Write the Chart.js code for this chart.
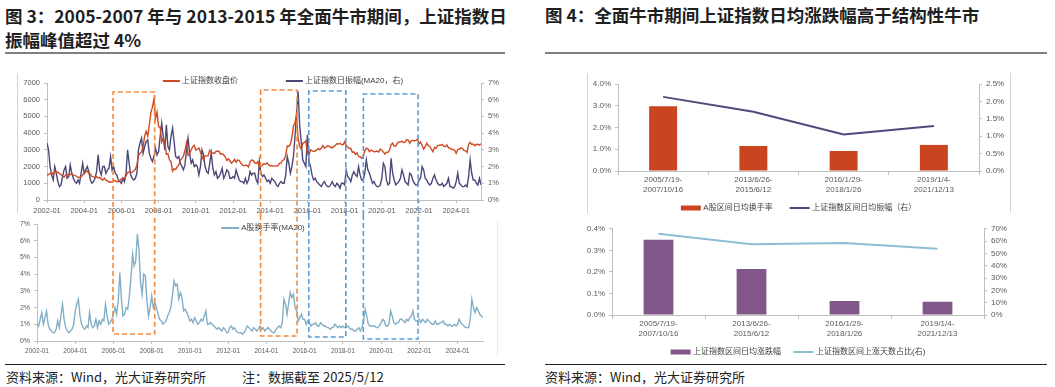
<!DOCTYPE html>
<html lang="zh-CN">
<head>
<meta charset="utf-8">
<title>上证指数振幅与换手率</title>
<script src="https://cdn.jsdelivr.net/npm/chart.js@4.4.1/dist/chart.umd.min.js"></script>
<style>
  body { margin: 0; width: 1055px; height: 387px; position: relative; overflow: hidden; background: #fff; font-family: "Noto Sans CJK SC", sans-serif; color: #1f1f1f; }
  .title { position: absolute; top: 4px; font-size: 17.5px; font-weight: 700; line-height: 24px; white-space: nowrap; }
  .rule { position: absolute; top: 52px; height: 2px; background: #808080; }
  .foot-rule { position: absolute; top: 364px; height: 1px; background: #222; }
  .foot { position: absolute; top: 368px; font-size: 13px; line-height: 18px; white-space: nowrap; color: #222; }
  .box { position: absolute; }
  .frame { position: absolute; width: 1px; background: #d4d4d4; }
</style>
</head>
<body>
  <div class="title" style="left:5px">图 3：2005-2007 年与 2013-2015 年全面牛市期间，上证指数日<br>振幅峰值超过 4%</div>
  <div class="title" style="left:545px; top:3px">图 4：全面牛市期间上证指数日均涨跌幅高于结构性牛市</div>
  <div class="rule" style="left:5px; width:500px"></div>
  <div class="rule" style="left:545px; width:502px"></div>

  <div class="frame" style="left:17px; top:73px; height:140px"></div>
  <div class="frame" style="left:497px; top:220px; height:137px; background:#ececec"></div>
  <div class="frame" style="left:587px; top:73px; height:140px"></div>
  <div class="frame" style="left:1010px; top:73px; height:140px"></div>

  <div class="box" style="left:0; top:60px; width:520px; height:155px"><canvas id="indexChart"></canvas></div>
  <div class="box" style="left:0; top:215px; width:520px; height:145px"><canvas id="turnoverChart"></canvas></div>
  <div class="box" style="left:540px; top:60px; width:480px; height:160px"><canvas id="rangeTurnoverChart"></canvas></div>
  <div class="box" style="left:540px; top:220px; width:480px; height:141px"><canvas id="rangeChangeChart"></canvas></div>

  <div class="foot-rule" style="left:5px; width:500px"></div>
  <div class="foot-rule" style="left:545px; width:502px"></div>
  <div class="foot" style="left:6px">资料来源：Wind，光大证券研究所</div>
  <div class="foot" style="left:242px">注：数据截至 2025/5/12</div>
  <div class="foot" style="left:545px">资料来源：Wind，光大证券研究所</div>

<script>
// 月度数据，起点 2002-01
const startYear = 2002;

// 上证指数收盘价（点）
const closePrice = [
  1490, 1525, 1580, 1650, 1515, 1730, 1655, 1670, 1580, 1508, 1440, 1358,
  1500, 1512, 1510, 1521, 1576, 1487, 1476, 1421, 1367, 1348, 1397, 1497,
  1590, 1675, 1742, 1595, 1555, 1399, 1386, 1342, 1397, 1320, 1340, 1266,
  1191, 1306, 1181, 1159, 1060, 1080, 1083, 1162, 1155, 1092, 1099, 1161,
  1258, 1299, 1298, 1440, 1641, 1672, 1612, 1658, 1752, 1837, 2099, 2675,
  2786, 2881, 3183, 3841, 4109, 3820, 4471, 5218, 5552, 6050, 4871, 5261,
  4383, 4348, 3472, 3693, 3433, 2736, 2775, 2397, 2293, 1728, 1871, 1821,
  1990, 2082, 2373, 2477, 2632, 2959, 3412, 2667, 2779, 2996, 3195, 3277,
  2989, 3051, 3109, 2870, 2592, 2398, 2638, 2638, 2655, 2979, 2820, 2808,
  2790, 2905, 2928, 2911, 2743, 2762, 2701, 2568, 2359, 2468, 2333, 2199,
  2292, 2428, 2262, 2396, 2373, 2225, 2103, 2047, 2086, 2069, 1980, 2269,
  2385, 2365, 2237, 2178, 2300, 1979, 1994, 2098, 2175, 2141, 2220, 2116,
  2033, 2056, 2033, 2026, 2039, 2048, 2202, 2217, 2364, 2420, 2683, 3235,
  3210, 3310, 3748, 4442, 4612, 5100, 3664, 3206, 3053, 3383, 3445, 3539,
  2738, 2688, 3004, 2938, 2917, 2930, 2979, 3085, 3005, 3100, 3250, 3104,
  3159, 3242, 3223, 3155, 3117, 3192, 3273, 3361, 3349, 3393, 3317, 3307,
  3481, 3259, 3169, 3082, 3095, 2847, 2876, 2725, 2821, 2603, 2588, 2494,
  2585, 2941, 3091, 3078, 2899, 2979, 2933, 2886, 2905, 2929, 2872, 3050,
  2977, 2880, 2750, 2860, 2852, 2985, 3310, 3396, 3218, 3225, 3392, 3473,
  3483, 3509, 3442, 3447, 3615, 3591, 3397, 3544, 3568, 3547, 3564, 3640,
  3361, 3462, 3252, 3047, 3186, 3399, 3253, 3202, 3024, 2893, 3151, 3089,
  3256, 3280, 3273, 3323, 3205, 3202, 3291, 3120, 3110, 3018, 3030, 2975,
  2789, 3015, 3041, 3105, 3087, 2967, 2939, 2842, 3336, 3450, 3326, 3352,
  3250, 3321, 3336, 3279, 3370
];

// 上证指数日振幅 MA20（%）
const amplitude = [
  3.4, 3.0, 2.0, 1.5, 1.2, 2.0, 1.6, 1.1, 0.8, 0.9, 1.4, 1.8,
  2.0, 1.3, 1.4, 2.1, 1.6, 1.3, 1.1, 1.0, 1.2, 1.0, 1.6, 2.2,
  1.6, 1.8, 2.0, 1.7, 1.2, 1.0, 1.1, 1.3, 1.7, 2.7, 1.8, 1.5,
  2.0, 2.0, 1.6, 1.8, 1.9, 2.6, 1.8, 2.0, 1.6, 1.5, 1.2, 1.1,
  1.0, 1.3, 1.1, 1.6, 3.0, 2.2, 1.5, 1.3, 1.2, 1.3, 1.6, 3.0,
  3.4, 3.7, 2.8, 3.2, 3.5, 3.6, 2.8, 2.5, 2.3, 2.6, 3.1, 2.7,
  2.9, 3.8, 4.6, 3.8, 3.0, 4.5, 3.2, 3.0, 3.8, 4.3, 3.5, 2.6,
  2.5, 2.6, 2.2, 2.0, 1.8, 2.1, 3.0, 3.7, 2.8, 2.2, 2.4, 2.0,
  2.1, 2.0, 1.5, 2.0, 3.0, 2.7, 2.0, 1.7, 1.6, 2.2, 2.8, 1.9,
  1.5, 1.7, 1.3, 1.4, 1.6, 1.9, 1.3, 1.5, 1.8, 1.7, 1.3, 1.3,
  1.4, 1.3, 1.8, 1.5, 1.2, 1.1, 1.1, 1.0, 1.3, 1.0, 1.2, 1.7,
  1.5, 1.6, 1.6, 1.2, 1.0, 2.3, 1.6, 1.4, 1.5, 1.3, 1.1, 1.2,
  1.0, 1.3, 1.2, 1.1, 0.9, 0.8, 1.0, 1.1, 1.0, 1.0, 1.5, 2.6,
  2.2, 1.6, 2.0, 2.6, 3.8, 5.2, 6.5, 4.5, 3.5, 2.4, 2.2, 2.0,
  3.9, 2.3, 2.0, 1.5, 1.2, 1.3, 1.1, 1.0, 0.9, 0.8, 1.0, 1.1,
  0.9, 0.8, 0.8, 0.9, 1.1, 0.9, 0.8, 1.0, 0.9, 0.7, 1.0, 1.0,
  0.9, 1.8, 1.4, 1.3, 1.1, 1.5, 1.7, 1.5, 1.4, 2.0, 1.5, 1.2,
  1.2, 1.6, 2.4, 1.8, 1.6, 1.3, 1.0, 1.1, 0.9, 0.8, 0.8, 0.9,
  1.3, 2.2, 2.0, 1.2, 0.9, 1.0, 2.5, 1.6, 1.2, 0.9, 1.0, 1.1,
  1.3, 1.8, 1.5, 1.1, 1.0, 0.9, 1.6, 1.5, 1.2, 1.0, 0.9, 0.9,
  1.2, 1.3, 2.0, 1.8, 1.3, 1.2, 1.0, 0.9, 1.0, 1.3, 1.5, 1.2,
  1.0, 0.9, 0.9, 1.0, 0.8, 0.9, 1.0, 1.3, 0.8, 0.8, 0.7, 0.8,
  1.1, 1.6, 1.0, 0.9, 0.8, 0.8, 0.9, 0.8, 1.4, 2.4, 1.6, 1.2,
  1.2, 1.0, 0.9, 1.3, 0.9
];

// A股换手率 MA20（%）
const turnover = [
  1.0, 0.9, 1.3, 1.7, 1.0, 1.4, 1.8, 1.0, 0.7, 0.6, 0.5, 0.5,
  0.7, 1.2, 0.8, 1.5, 2.2, 1.3, 0.8, 0.6, 0.5, 0.6, 0.7, 1.0,
  1.8, 2.2, 2.5, 1.5, 1.0, 0.8, 0.7, 0.9, 0.8, 1.7, 1.0, 0.8,
  0.9, 1.3, 0.8, 1.2, 1.0, 1.3, 1.2, 2.2, 1.5, 1.0, 1.1, 1.3,
  1.6, 2.0, 1.6, 2.4, 4.1, 2.5, 1.5, 1.6, 2.0, 1.9, 2.7, 3.8,
  5.2, 4.5, 4.8, 6.4, 5.5, 3.5, 2.8, 4.0, 3.9, 2.4, 1.5, 2.0,
  2.7, 2.0, 2.3, 2.0, 1.6, 1.3, 1.2, 1.0, 1.1, 1.2, 1.5, 1.7,
  2.0, 2.7, 3.6, 3.3, 3.4, 2.5, 2.9, 2.6, 1.8, 1.9, 1.7, 1.5,
  1.2, 1.3, 1.1, 1.4, 1.2, 1.0, 1.1, 1.3, 1.2, 1.5, 1.8, 1.0,
  1.0, 1.1, 1.0, 0.9, 0.8, 0.7, 0.8, 0.7, 0.6, 0.8, 0.7, 0.5,
  0.5, 0.8, 0.9, 0.7, 0.8, 0.6, 0.5, 0.5, 0.5, 0.4, 0.5, 0.7,
  0.9, 0.8, 0.7, 0.6, 0.8, 0.7, 0.6, 0.7, 0.9, 0.7, 0.8, 0.6,
  0.7, 0.8, 0.7, 0.6, 0.5, 0.5, 0.7, 0.8, 0.9, 0.8, 1.1, 2.5,
  2.2, 1.6, 2.3, 2.9, 2.6, 2.8, 2.0, 1.8, 1.2, 1.4, 1.6, 1.3,
  1.3, 1.0, 1.2, 1.1, 0.9, 1.0, 1.0, 1.1, 0.9, 0.9, 1.1, 1.0,
  0.9, 0.9, 0.8, 0.8, 0.7, 0.8, 0.8, 1.0, 0.9, 0.8, 0.9, 0.8,
  0.9, 0.8, 0.8, 0.9, 0.8, 0.7, 0.7, 0.6, 0.6, 0.7, 0.8, 0.6,
  0.8, 1.2, 1.9, 1.5, 1.0, 0.9, 0.9, 0.9, 0.9, 0.8, 0.8, 0.9,
  1.1, 1.3, 1.2, 0.9, 0.9, 1.0, 1.8, 1.5, 1.1, 1.0, 1.1, 1.1,
  1.3, 1.3, 1.2, 1.1, 1.3, 1.2, 1.4, 1.5, 1.8, 1.3, 1.2, 1.2,
  1.3, 1.1, 1.3, 1.2, 1.1, 1.3, 1.2, 1.1, 1.0, 1.0, 1.2, 1.0,
  1.0, 1.1, 1.1, 1.2, 1.0, 1.0, 0.9, 1.0, 0.9, 0.9, 1.0, 0.9,
  1.0, 1.3, 1.1, 1.0, 0.9, 0.8, 0.8, 0.8, 1.3, 2.5, 2.0, 1.7,
  2.0, 1.8, 1.6, 1.5, 1.4
];

// 牛市区间（虚线框）
const periodStart = ['2005-07-19', '2013-06-26', '2016-01-29', '2019-01-04'];
const periodEnd = ['2007-10-16', '2015-06-12', '2018-01-26', '2021-12-13'];
const periodColor = ['#F08A3C', '#F08A3C', '#5B9BD5', '#5B9BD5'];
const periodTop = [6460, 6580, 6520, 6340];   // 上图左轴（点）
const periodBottom = [0.42, 0.30, 0.24, 0.12]; // 下图（%）

// 图 4
const rangeLabels = [
  ['2005/7/19-', '2007/10/16'],
  ['2013/6/26-', '2015/6/12'],
  ['2016/1/29-', '2018/1/26'],
  ['2019/1/4-', '2021/12/13']
];
const rangeTurnover = [2.98, 1.15, 0.92, 1.20];   // %
const rangeAmplitude = [2.13, 1.70, 1.05, 1.29];  // %（右）
const rangeChange = [0.349, 0.214, 0.065, 0.062]; // %
const rangeUpDays = [66.0, 57.4, 58.4, 53.7];     // %（右）

const fontFamily = '"Liberation Sans", "Noto Sans CJK SC", sans-serif';
Chart.defaults.font.family = fontFamily;
const axisColor = '#BFBFBF';
const tickColor = '#595959';

const monthX = closePrice.map((_, i) => startYear + i / 12);
const points = values => values.map((v, i) => ({ x: monthX[i], y: v }));
const fixSize = (prop, size) => scale => { scale[prop] = size; };

function toYear(s) {
  const [y, m, d] = s.split('-').map(Number);
  return y + (m - 1 + (d - 1) / 31) / 12;
}

function timeAxis(fontSize) {
  return {
    type: 'linear',
    min: startYear,
    max: monthX[monthX.length - 1],
    border: { color: axisColor },
    grid: { drawOnChartArea: false, color: axisColor, tickLength: 3 },
    ticks: {
      stepSize: 2, maxTicksLimit: 20, includeBounds: false, autoSkip: false, maxRotation: 0,
      padding: 3, color: tickColor, font: { size: fontSize },
      callback: v => Math.round(v) + '-01'
    },
    afterFit: fixSize('height', 15)
  };
}

function valueAxis(position, max, step, fmt, width, fontSize) {
  return {
    position: position, min: 0, max: max,
    border: { color: axisColor },
    grid: { drawOnChartArea: false, color: axisColor, tickLength: 3 },
    ticks: { stepSize: step, autoSkip: false, padding: 4, color: tickColor, font: { size: fontSize }, callback: fmt },
    afterFit: fixSize('width', width)
  };
}

// 自绘图例：折线画短线，柱形画小色块；可放在绘图区顶端或下方
const inlineLegend = {
  id: 'inlineLegend',
  afterDraw(chart, args, opts) {
    const { ctx, chartArea: a } = chart;
    ctx.save();
    ctx.font = opts.size + 'px ' + fontFamily;
    ctx.textBaseline = 'middle';
    const items = chart.data.datasets.map(ds => ({ ds, w: opts.line + opts.textGap + ctx.measureText(ds.label).width }));
    const total = items.reduce((s, it) => s + it.w, 0) + opts.gap * (items.length - 1);
    let x = (a.left + a.right) / 2 + opts.dx - total / 2;
    const y = (opts.below ? a.bottom : a.top) + opts.dy;
    items.forEach(({ ds, w }) => {
      if (ds.type === 'bar') {
        ctx.fillStyle = ds.backgroundColor;
        ctx.fillRect(x, y - 2.5, opts.line, 5);
      } else {
        ctx.strokeStyle = ds.borderColor;
        ctx.lineWidth = 2;
        ctx.beginPath();
        ctx.moveTo(x, y);
        ctx.lineTo(x + opts.line, y);
        ctx.stroke();
      }
      ctx.fillStyle = '#404040';
      ctx.fillText(ds.label, x + opts.line + opts.textGap, y);
      x += w + opts.gap;
    });
    ctx.restore();
  }
};

let indexChart = null;

// 牛市区间虚线框，上下两图共用上图的横轴
const periodBoxes = {
  id: 'periodBoxes',
  afterDraw(chart, args, opts) {
    const ctx = chart.ctx;
    const xs = (opts.upper ? chart : indexChart).scales.x;
    const ys = chart.scales.y;
    ctx.save();
    ctx.lineWidth = 1.6;
    ctx.setLineDash([5, 3]);
    periodStart.forEach((s, i) => {
      const x1 = xs.getPixelForValue(toYear(s));
      const x2 = xs.getPixelForValue(toYear(periodEnd[i]));
      ctx.strokeStyle = periodColor[i];
      ctx.beginPath();
      if (opts.upper) {
        const yt = ys.getPixelForValue(periodTop[i]);
        ctx.moveTo(x1, chart.height);
        ctx.lineTo(x1, yt);
        ctx.lineTo(x2, yt);
        ctx.lineTo(x2, chart.height);
      } else {
        const yb = ys.getPixelForValue(periodBottom[i]);
        ctx.moveTo(x1, 0);
        ctx.lineTo(x1, yb);
        ctx.lineTo(x2, yb);
        ctx.lineTo(x2, 0);
      }
      ctx.stroke();
    });
    ctx.restore();
  }
};

const lineStyle = { borderWidth: 1.4, pointRadius: 0, tension: 0 };

indexChart = new Chart(document.getElementById('indexChart'), {
  type: 'line',
  data: {
    datasets: [
      { label: '上证指数收盘价', data: points(closePrice), yAxisID: 'y', borderColor: '#CF4A23', ...lineStyle },
      { label: '上证指数日振幅(MA20，右)', data: points(amplitude), yAxisID: 'y1', borderColor: '#4B4878', ...lineStyle }
    ]
  },
  options: {
    responsive: true, maintainAspectRatio: false, animation: false,
    layout: { padding: { left: 17, right: 9, top: 23, bottom: 0 } },
    plugins: {
      legend: { display: false }, tooltip: { enabled: false },
      inlineLegend: { size: 8, line: 17, textGap: 2, gap: 48, dx: 19, dy: -2 },
      periodBoxes: { upper: true }
    },
    scales: {
      x: timeAxis(7.5),
      y: valueAxis('left', 7000, 1000, v => v, 30, 7.5),
      y1: valueAxis('right', 7, 1, v => v + '%', 30, 7.5)
    }
  },
  plugins: [inlineLegend, periodBoxes]
});

new Chart(document.getElementById('turnoverChart'), {
  type: 'line',
  data: {
    datasets: [
      { label: 'A股换手率(MA20)', data: points(turnover), yAxisID: 'y', borderColor: '#83AFC6', ...lineStyle }
    ]
  },
  options: {
    responsive: true, maintainAspectRatio: false, animation: false,
    layout: { padding: { left: 15, right: 37, top: 9, bottom: 4 } },
    plugins: {
      legend: { display: false }, tooltip: { enabled: false },
      inlineLegend: { size: 8, line: 18, textGap: 2, gap: 0, dx: 3, dy: 4 },
      periodBoxes: { upper: false }
    },
    scales: {
      x: timeAxis(6.5),
      y: valueAxis('left', 7, 1, v => v + '%', 22, 7)
    }
  },
  plugins: [inlineLegend, periodBoxes]
});

function rangeChart(id, bar, line, opts) {
  return new Chart(document.getElementById(id), {
    type: 'bar',
    data: {
      labels: rangeLabels,
      datasets: [
        { type: 'bar', label: bar.label, data: bar.data, yAxisID: 'y', backgroundColor: bar.color,
          borderWidth: 0, barPercentage: opts.barPct, categoryPercentage: 1 },
        { type: 'line', label: line.label, data: line.data, yAxisID: 'y1', borderColor: line.color,
          backgroundColor: line.color, borderWidth: 2, pointRadius: 0, tension: 0 }
      ]
    },
    options: {
      responsive: true, maintainAspectRatio: false, animation: false,
      layout: { padding: opts.padding },
      plugins: {
        tooltip: { enabled: false },
        legend: { display: false },
        inlineLegend: { below: true, size: 8, line: 20, textGap: 2.5, gap: opts.legendGap, dx: 0, dy: 37 }
      },
      scales: {
        x: {
          border: { color: axisColor },
          grid: { drawOnChartArea: false, color: axisColor, tickLength: 4 },
          ticks: { padding: 0, maxRotation: 0, autoSkip: false, color: tickColor, font: { size: 8 } },
          afterFit: fixSize('height', 26)
        },
        y: valueAxis('left', opts.yMax, opts.yStep, opts.yFmt, 30, 8),
        y1: valueAxis('right', opts.y1Max, opts.y1Step, opts.y1Fmt, 30, 8)
      }
    },
    plugins: [inlineLegend]
  });
}

rangeChart('rangeTurnoverChart',
  { label: 'A股区间日均换手率', data: rangeTurnover, color: '#C9451F' },
  { label: '上证指数区间日均振幅（右）', data: rangeAmplitude, color: '#4A4B7C' },
  {
    barPct: 0.31, padding: { left: 48, right: 11, top: 24, bottom: 23 }, legendGap: 17,
    yMax: 4, yStep: 1, yFmt: v => v.toFixed(1) + '%',
    y1Max: 2.5, y1Step: 0.5, y1Fmt: v => v.toFixed(1) + '%'
  });

rangeChart('rangeChangeChart',
  { label: '上证指数区间日均涨跌幅', data: rangeChange, color: '#81578A' },
  { label: '上证指数区间上涨天数占比(右)', data: rangeUpDays, color: '#8DBDD3' },
  {
    barPct: 0.32, padding: { left: 42, right: 6, top: 6, bottom: 20 }, legendGap: 12.5,
    yMax: 0.4, yStep: 0.1, yFmt: v => v.toFixed(1) + '%',
    y1Max: 70, y1Step: 10, y1Fmt: v => Math.round(v) + '%'
  });
</script>
</body>
</html>
